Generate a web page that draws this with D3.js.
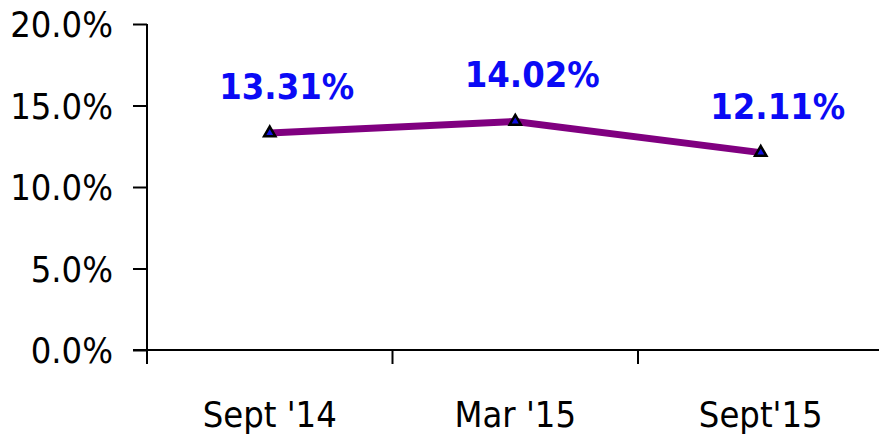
<!DOCTYPE html>
<html>
<head>
<meta charset="utf-8">
<script src="https://cdn.jsdelivr.net/npm/d3@7"></script>
<style>
  body { margin: 0; background: #fff; }
  svg text { font-family: "DejaVu Sans Condensed", "DejaVu Sans", sans-serif; }
</style>
</head>
<body>
<svg width="879" height="441"></svg>
<script>
// data
const categories = ["Sept '14", "Mar '15", "Sept'15"];
const values = [13.31, 14.02, 12.11];
const yTicks = [0, 5, 10, 15, 20];

var svg = d3.select("svg"),
    width = +svg.attr("width"),
    height = +svg.attr("height");

const plotLeft = 147, plotTop = 24, plotBottom = 350;

const x = d3.scaleBand()
    .domain(categories)
    .range([plotLeft, plotLeft + 3 * 245.5]);

const y = d3.scaleLinear()
    .domain([0, 20])
    .range([plotBottom, plotTop]);

// y axis
const yAxis = svg.append("g")
    .attr("transform", "translate(" + plotLeft + ",0)")
    .call(d3.axisLeft(y).tickValues(yTicks).tickSize(14).tickPadding(20)
        .tickFormat(d => d.toFixed(1) + "%"));
yAxis.select(".domain").remove();
yAxis.selectAll("line").attr("stroke", "#000").attr("stroke-width", 2);
yAxis.selectAll("text")
    .attr("font-size", 36)
    .attr("fill", "#000")
    .attr("dy", "0.36em");
// vertical axis line, runs a bit under the x axis
svg.append("line")
    .attr("x1", plotLeft).attr("x2", plotLeft)
    .attr("y1", plotTop).attr("y2", plotBottom + 14)
    .attr("stroke", "#000").attr("stroke-width", 2);

// x axis
svg.append("line")
    .attr("x1", plotLeft - 14).attr("x2", width)
    .attr("y1", plotBottom).attr("y2", plotBottom)
    .attr("stroke", "#000").attr("stroke-width", 2);
svg.append("g")
    .selectAll("line")
    .data(categories.slice(1))
    .enter().append("line")
    .attr("x1", d => x(d)).attr("x2", d => x(d))
    .attr("y1", plotBottom).attr("y2", plotBottom + 14)
    .attr("stroke", "#000").attr("stroke-width", 2);
svg.append("g")
    .selectAll("text")
    .data(categories)
    .enter().append("text")
    .attr("x", d => x(d) + x.bandwidth() / 2)
    .attr("y", 427)
    .attr("text-anchor", "middle")
    .attr("font-size", 36)
    .attr("fill", "#000")
    .text(d => d);

// line
const pts = categories.map((c, i) => [x(c) + x.bandwidth() / 2, y(values[i])]);
svg.append("path")
    .datum(pts)
    .attr("d", d3.line())
    .attr("fill", "none")
    .attr("stroke", "#800080")
    .attr("stroke-width", 7);

// markers
svg.append("g")
    .selectAll("path")
    .data(pts)
    .enter().append("path")
    .attr("transform", d => "translate(" + d[0] + "," + d[1] + ")")
    .attr("d", d3.symbol().type(d3.symbolTriangle).size(55))
    .attr("fill", "#1010e0")
    .attr("stroke", "#000")
    .attr("stroke-width", 2.5);

// value labels
svg.append("g")
    .selectAll("text")
    .data(values)
    .enter().append("text")
    .attr("x", (d, i) => pts[i][0] + 17)
    .attr("y", (d, i) => pts[i][1] - 34)
    .attr("text-anchor", "middle")
    .attr("font-size", 36)
    .attr("font-weight", "bold")
    .attr("fill", "#0a0af5")
    .text(d => d.toFixed(2) + "%");
</script>
</body>
</html>
